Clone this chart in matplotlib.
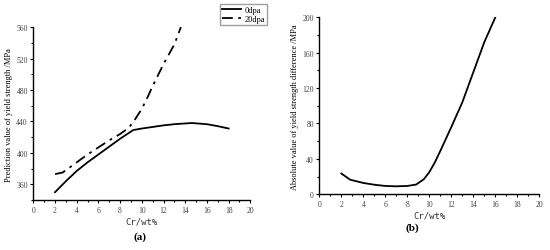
import matplotlib.pyplot as plt
from matplotlib.ticker import MultipleLocator

plt.rcParams['font.family'] = ['Liberation Serif', 'DejaVu Serif']

# (a) predicted yield strength
cr_0dpa = [2, 3, 4, 5, 6, 7, 8, 9.2, 10, 11, 12, 13, 14.6, 16, 17, 18]
ys_0dpa = [350, 364, 377, 388, 398, 408, 418, 429, 431, 433, 435, 436.5, 438, 436.5, 434, 431]
cr_20dpa = [2, 2.7, 4, 5, 6, 7, 8, 8.8, 9.3, 10, 10.5, 11, 12, 13, 13.6]
ys_20dpa = [373, 375, 388, 398, 407, 416, 424, 432, 441, 456, 470, 485, 513, 538, 560]

# (b) absolute difference
cr_diff = [2, 2.8, 4, 5, 6, 7, 8, 8.8, 9.5, 10, 10.5, 11, 12, 13, 14, 15, 16]
ys_diff = [23.5, 16.5, 12.8, 10.8, 9.4, 9.0, 9.4, 11, 17, 25, 36, 49, 76, 104, 138, 172, 200]

fig = plt.figure(figsize=(5.5, 2.51), dpi=100)
ax1 = fig.add_axes([0.0606, 0.199, 0.3945, 0.689])
ax2 = fig.add_axes([0.5806, 0.222, 0.4, 0.705])

ax1.plot(cr_0dpa, ys_0dpa, color='black', lw=1.3, label='0dpa')
ax1.plot(cr_20dpa, ys_20dpa, color='black', lw=1.3, ls=(0, (6, 3, 1.5, 3)), label='20dpa')
ax1.set_xlim(0, 20)
ax1.set_ylim(340, 560)
ax1.yaxis.set_major_locator(MultipleLocator(40))
ax1.yaxis.set_minor_locator(MultipleLocator(20))
ax1.set_ylabel('Prediction value of yield strength /MPa', fontsize=6, labelpad=2)
ax1.legend(loc='upper left', bbox_to_anchor=(0.86, 1.135), fontsize=6, frameon=True,
           fancybox=False, edgecolor='#888888', handlelength=2.3, borderpad=0.25,
           labelspacing=0.15, handletextpad=0.4, borderaxespad=0)

ax2.plot(cr_diff, ys_diff, color='black', lw=1.3)
ax2.set_xlim(0, 20)
ax2.set_ylim(0, 200)
ax2.yaxis.set_major_locator(MultipleLocator(40))
ax2.yaxis.set_minor_locator(MultipleLocator(20))
ax2.set_ylabel('Absolute value of yield strength difference /MPa', fontsize=6, labelpad=2)

for ax in (ax1, ax2):
    for s in ('top', 'right'):
        ax.spines[s].set_visible(False)
    for s in ('left', 'bottom'):
        ax.spines[s].set_linewidth(1.0)
    ax.xaxis.set_major_locator(MultipleLocator(2))
    ax.xaxis.set_minor_locator(MultipleLocator(1))
    ax.tick_params(which='major', direction='out', length=2.5, width=0.8,
                   labelsize=5.5, labelcolor='#444444', pad=1.5)
    ax.tick_params(which='minor', direction='out', length=1.5, width=0.8)
    ax.set_xlabel('Cr/wt%', fontsize=6.5, family='DejaVu Sans Mono', color='#333333', labelpad=2)

fig.text(0.255, 0.055, '(a)', fontsize=8, fontweight='bold', ha='center', va='center')
fig.text(0.75, 0.09, '(b)', fontsize=8, fontweight='bold', ha='center', va='center')

fig.savefig('out.png', dpi=100)
